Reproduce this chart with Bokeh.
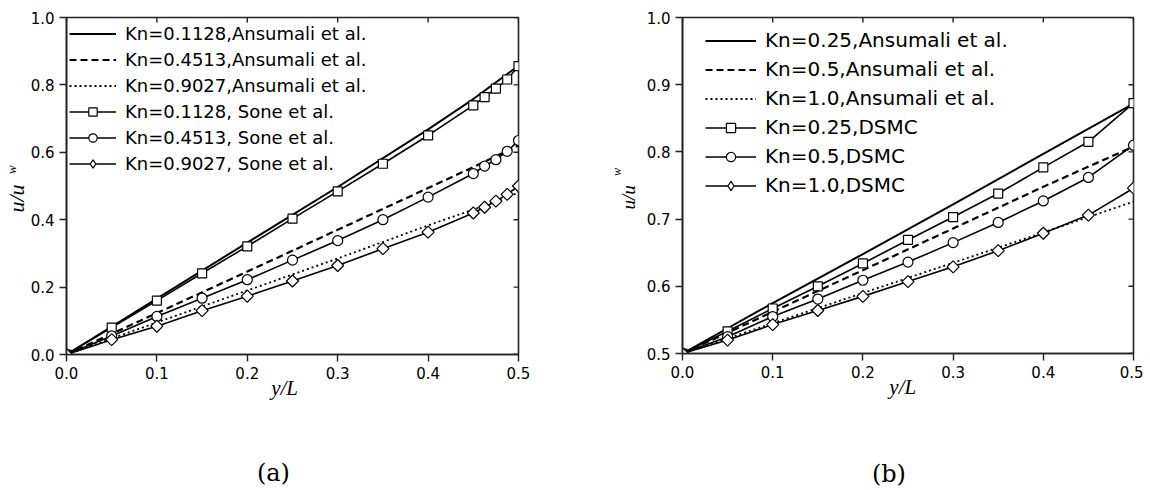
import numpy as np
from bokeh.plotting import figure
from bokeh.models import (Range1d, LinearAxis, FixedTicker, PrintfTickFormatter,
                          Legend, LegendItem, Title)
from bokeh.layouts import row
from bokeh.embed import file_html
from bokeh.resources import INLINE

# ---------------- data : panel (a) ----------------
a_line_x = [0.0, 0.1, 0.2, 0.3, 0.4, 0.45, 0.5]
a_ans_k01128 = [0.0, 0.166, 0.332, 0.497, 0.668, 0.758, 0.857]
a_ans_k04513 = [0.0, 0.123, 0.246, 0.370, 0.494, 0.556, 0.620]
a_ans_k09027 = [0.0, 0.095, 0.190, 0.285, 0.383, 0.430, 0.480]

a_sone_x = [0.0, 0.05, 0.1, 0.15, 0.2, 0.25, 0.3, 0.35, 0.4, 0.45, 0.4625, 0.475, 0.4875, 0.5]
a_sone_k01128 = [0.0, 0.080, 0.160, 0.241, 0.321, 0.403, 0.484, 0.566, 0.650, 0.739, 0.764, 0.789, 0.816, 0.856]
a_sone_k04513 = [0.0, 0.055, 0.113, 0.167, 0.222, 0.280, 0.338, 0.400, 0.467, 0.537, 0.559, 0.578, 0.603, 0.635]
a_sone_k09027 = [0.0, 0.044, 0.084, 0.130, 0.173, 0.218, 0.264, 0.314, 0.363, 0.420, 0.437, 0.455, 0.475, 0.500]

a_labels = ["Kn=0.1128,Ansumali et al.", "Kn=0.4513,Ansumali et al.", "Kn=0.9027,Ansumali et al.",
            "Kn=0.1128, Sone et al.", "Kn=0.4513, Sone et al.", "Kn=0.9027, Sone et al."]
a_y_ticks = [0.0, 0.2, 0.4, 0.6, 0.8, 1.0]

# ---------------- data : panel (b) ----------------
b_line_x = [0.0, 0.1, 0.2, 0.3, 0.4, 0.5]
b_ans_k025 = [0.5, 0.575, 0.648, 0.722, 0.797, 0.872]
b_ans_k05 = [0.5, 0.562, 0.624, 0.686, 0.748, 0.808]
b_ans_k10 = [0.5, 0.545, 0.590, 0.635, 0.680, 0.726]

b_dsmc_x = [0.0, 0.05, 0.1, 0.15, 0.2, 0.25, 0.3, 0.35, 0.4, 0.45, 0.5]
b_dsmc_k025 = [0.5, 0.533, 0.567, 0.600, 0.634, 0.669, 0.703, 0.738, 0.777, 0.815, 0.8725]
b_dsmc_k05 = [0.5, 0.525, 0.555, 0.581, 0.609, 0.636, 0.665, 0.695, 0.727, 0.762, 0.810]
b_dsmc_k10 = [0.5, 0.520, 0.543, 0.564, 0.585, 0.607, 0.629, 0.653, 0.679, 0.706, 0.746]

b_labels = ["Kn=0.25,Ansumali et al.", "Kn=0.5,Ansumali et al.", "Kn=1.0,Ansumali et al.",
            "Kn=0.25,DSMC", "Kn=0.5,DSMC", "Kn=1.0,DSMC"]
b_y_ticks = [0.5, 0.6, 0.7, 0.8, 0.9, 1.0]

x_ticks = [0.0, 0.1, 0.2, 0.3, 0.4, 0.5]
captions = ["(a)", "(b)"]
x_title = "y/L"
y_title_main = "u/u"
y_title_sub = "w"

SANS = "DejaVu Sans"
SERIF = "Liberation Serif"
NB = "\u00a0"
INK = "#222222"


def tick_axis(ax, ticks):
    ax.ticker = FixedTicker(ticks=ticks, minor_ticks=[])
    ax.formatter = PrintfTickFormatter(format="%.1f")
    ax.axis_line_color = INK
    ax.axis_line_width = 1.6
    ax.major_tick_line_color = INK
    ax.major_tick_line_width = 1.4
    ax.minor_tick_line_color = None
    ax.major_tick_out = 7
    ax.major_tick_in = 0
    ax.major_label_standoff = 5
    ax.major_label_text_font = SANS
    ax.major_label_text_font_size = "15px"
    ax.major_label_text_color = "black"


def title_axis(text, standoff, font, size, style):
    return LinearAxis(ticker=FixedTicker(ticks=[]), axis_line_color=None,
                      major_tick_out=0, major_tick_in=0, major_label_standoff=0,
                      major_tick_line_color=None, minor_tick_line_color=None,
                      axis_label=text, axis_label_standoff=standoff,
                      axis_label_text_font=font, axis_label_text_font_size=size,
                      axis_label_text_font_style=style, axis_label_text_color="black")


def make_panel(y_ticks, lines_x, lines, marks_x, marks, labels, cfg):
    p = figure(frame_width=cfg["fw"], frame_height=cfg["fh"],
               x_range=Range1d(x_ticks[0], x_ticks[-1]),
               y_range=Range1d(y_ticks[0], y_ticks[-1]),
               output_backend="svg", toolbar_location=None,
               min_border_left=cfg["bl"], min_border_right=cfg["br"],
               min_border_top=cfg["bt"], min_border_bottom=cfg["bb"])
    p.xgrid.visible = False
    p.ygrid.visible = False
    p.outline_line_color = INK
    p.outline_line_width = 1.6
    p.background_fill_color = "white"
    p.border_fill_color = "white"

    xax = p.below[0]
    yax = p.left[0]
    tick_axis(xax, x_ticks)
    tick_axis(yax, y_ticks)

    # x title on the tick axis
    xax.axis_label = x_title + NB * cfg["xl_pad"]
    xax.axis_label_text_font = SERIF
    xax.axis_label_text_font_style = "italic"
    xax.axis_label_text_font_size = "21px"
    xax.axis_label_text_color = "black"
    xax.axis_label_standoff = -6

    # subscript of the y title sits next to the tick labels
    yax.axis_label = NB * cfg["w_pad"] + y_title_sub
    yax.axis_label_text_font = SERIF
    yax.axis_label_text_font_style = "italic"
    yax.axis_label_text_font_size = cfg["wfs"]
    yax.axis_label_text_color = "black"
    yax.axis_label_standoff = cfg["w_so"]

    # main part of the y title, further out, placed along the side by offset
    p.add_layout(Title(text=y_title_main, align="left", offset=cfg["u_off"],
                       standoff=cfg["u_so"], vertical_align="bottom",
                       text_font=SERIF, text_font_style="italic",
                       text_font_size=cfg["ufs"], text_color="black"), "left")

    # caption under the panel
    p.add_layout(title_axis(cfg["cap"] + NB * cfg["c_pad"], cfg["c_so"], "DejaVu Serif",
                            "24px", "normal"), "below")

    # inward ticks on the top and right frame edges
    y_top = [y_ticks[-1]] * len(x_ticks)
    x_right = [x_ticks[-1]] * len(y_ticks)
    p.ray(x=x_ticks, y=y_top, length=5, length_units="screen", angle=-np.pi / 2,
          line_color=INK, line_width=1.4)
    p.ray(x=x_right, y=y_ticks, length=5, length_units="screen", angle=np.pi,
          line_color=INK, line_width=1.4)

    dashes = ["solid", "7 4", "2 3"]
    widths = [2.0, 2.2, 1.8]
    items = []
    for ys, d, w in zip(lines, dashes, widths):
        r = p.line(lines_x, ys, line_color="black", line_width=w, line_dash=d)
        items.append([r])

    marker_styles = [("square", 0.0, 9), ("circle", 0.0, 10), ("square", np.pi / 4, 8.5)]
    legend_markers = ["square", "circle", "diamond"]
    for ys, (m, ang, sz), lm in zip(marks, marker_styles, legend_markers):
        rl = p.line(marks_x, ys, line_color="black", line_width=1.6)
        rs = p.scatter(marks_x, ys, marker=m, angle=ang, size=sz, fill_color="white",
                       line_color="black", line_width=1.2)
        if lm == m:
            items.append([rl, rs])
        else:
            # legend-only symbol: the legend draws markers unrotated
            proxy = p.scatter([np.nan], [np.nan], marker=lm, size=sz, fill_color="white",
                              line_color="black", line_width=1.2)
            items.append([rl, proxy])

    legend = Legend(items=[LegendItem(label=t, renderers=rr) for t, rr in zip(labels, items)],
                    location=cfg["loc"], margin=0, padding=0,
                    border_line_color=None, background_fill_alpha=0,
                    glyph_width=cfg["gw"], glyph_height=cfg["gh"], label_height=cfg["gh"],
                    spacing=cfg["sp"], label_standoff=9,
                    label_text_font=SANS, label_text_font_size=cfg["lfs"],
                    label_text_color="black")
    p.add_layout(legend, "center")
    return p


cfg_a = dict(fw=452, fh=337, bl=65, br=82, bt=17, bb=134,
             loc=(3, 180), gw=47, gh=21, sp=5, lfs="18px",
             xl_pad=3, w_pad=10, wfs="13px", w_so=9,
             u_off=142, u_so=-56, ufs="22px",
             cap=captions[0], c_pad=5, c_so=56)
cfg_b = dict(fw=451, fh=336, bl=82, br=10, bt=16, bb=136,
             loc=(23, 156), gw=51, gh=23, sp=5, lfs="20px",
             xl_pad=2, w_pad=9, wfs="12px", w_so=20,
             u_off=144, u_so=-64, ufs="19px",
             cap=captions[1], c_pad=5, c_so=58)

pa = make_panel(a_y_ticks, a_line_x, [a_ans_k01128, a_ans_k04513, a_ans_k09027],
                a_sone_x, [a_sone_k01128, a_sone_k04513, a_sone_k09027], a_labels, cfg_a)
pb = make_panel(b_y_ticks, b_line_x, [b_ans_k025, b_ans_k05, b_ans_k10],
                b_dsmc_x, [b_dsmc_k025, b_dsmc_k05, b_dsmc_k10], b_labels, cfg_b)

layout = row(pa, pb, spacing=0)
open("out.html", "w").write(file_html(layout, INLINE))
